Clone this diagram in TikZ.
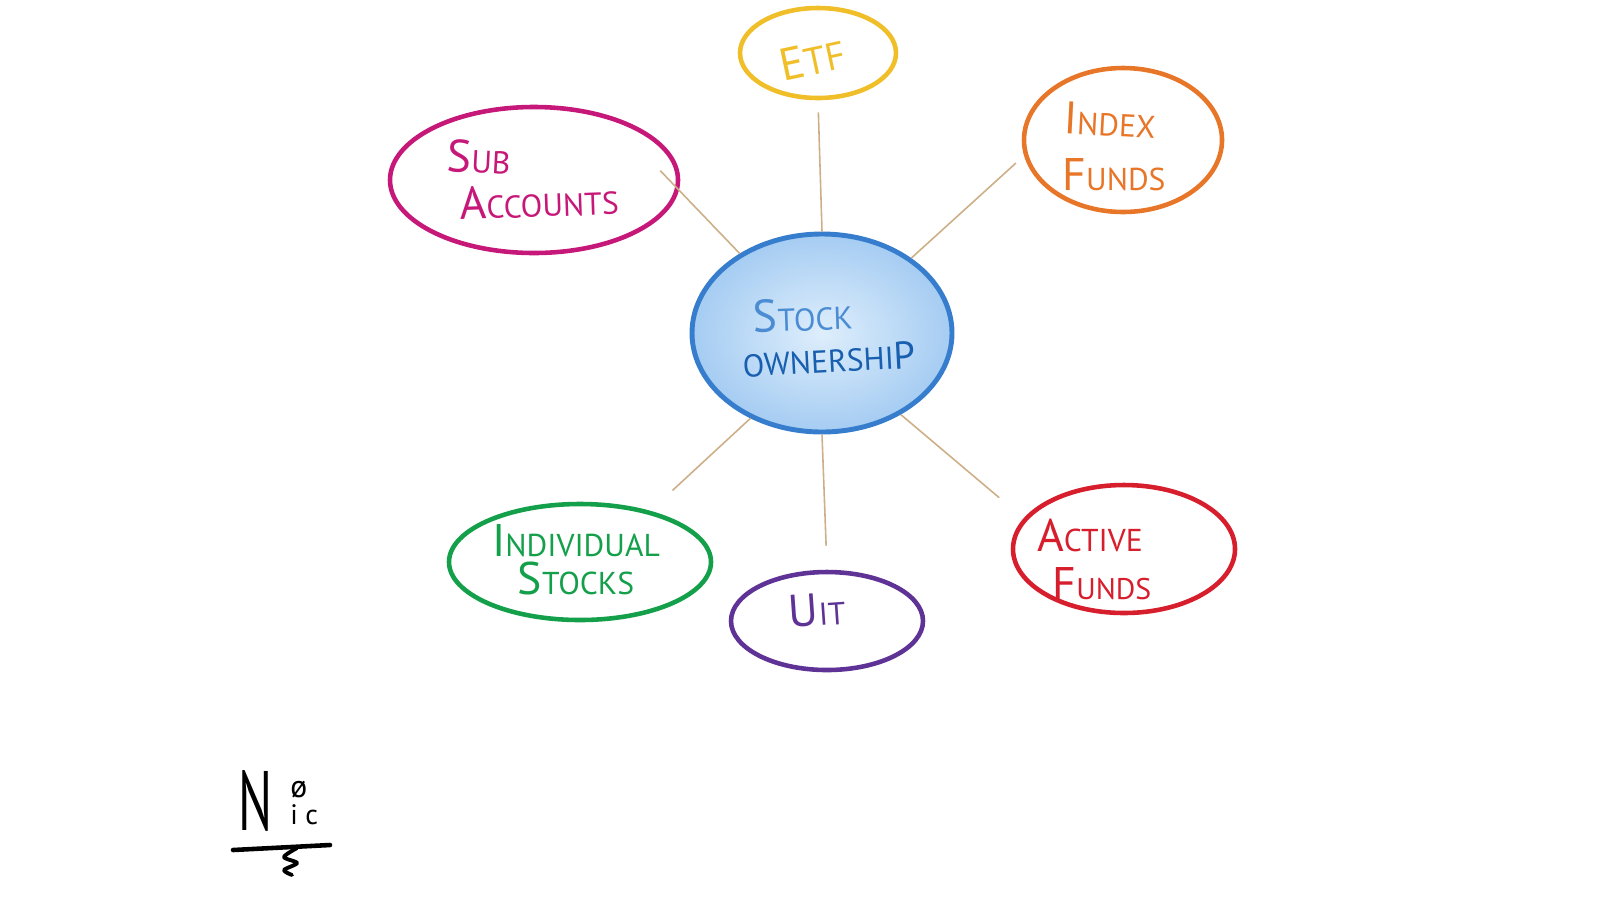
\documentclass[tikz,border=0pt]{standalone}
\usepackage{graphicx}
\usepackage{fontspec}
\setmainfont{PT Sans}
\usetikzlibrary{shapes.geometric}

\definecolor{etfcol}{RGB}{240,190,40}
\definecolor{indexcol}{RGB}{232,118,40}
\definecolor{subcol}{RGB}{198,24,120}
\definecolor{indivcol}{RGB}{20,160,75}
\definecolor{uitcol}{RGB}{95,50,150}
\definecolor{activecol}{RGB}{215,30,45}
\definecolor{stockline}{RGB}{55,125,205}
\definecolor{stocktop}{RGB}{75,140,210}
\definecolor{stockbot}{RGB}{25,95,175}
\definecolor{stockcore}{RGB}{222,238,252}
\definecolor{stockrim}{RGB}{165,204,242}
\definecolor{linkcol}{RGB}{205,175,135}

\newcommand{\bigsmall}[2]{{\fontsize{13}{13}\selectfont #1}{\fontsize{9}{9}\selectfont #2}}

\tikzset{
	bubble/.style={ellipse, draw, line width=1.3pt, inner sep=0pt},
	link/.style={draw=linkcol, line width=0.45pt},
	word/.style={inner sep=0pt, font=\fontsize{9}{9}\selectfont}
}

\begin{document}
\begin{tikzpicture}
			%%%%% START %%%%%
			\useasboundingbox (0, 0) rectangle (16, -9);
			
			% middle
			\node[bubble, draw=stockline, line width=1.4pt, inner color=stockcore, outer color=stockrim, minimum width=2.6cm, minimum height=1.98cm] (stock) at (8.22, -3.33) {};
			\node[word, color=stocktop, rotate=2] (stockA) at (8.03, -3.15) {\bigsmall{S}{TOCK}};
			\node[word, color=stockbot, rotate=3] (stockB) at (8.29, -3.59) {OWNERSHI{\fontsize{11}{11}\selectfont P}};
			
			% outer bubbles
			\node[bubble, draw=etfcol, minimum width=1.56cm, minimum height=0.9cm] (etf) at (8.18, -0.53) {};
			\node[word, color=etfcol, rotate=12] (etfA) at (8.12, -0.59) {\bigsmall{E}{\fontsize{11}{11}\selectfont TF}};
			
			\node[bubble, draw=indexcol, minimum width=1.98cm, minimum height=1.44cm] (index) at (11.23, -1.40) {};
			\node[word, color=indexcol, rotate=-3] (indexA) at (11.10, -1.20) {\bigsmall{I}{NDEX}};
			\node[word, color=indexcol] (indexB) at (11.14, -1.75) {\bigsmall{F}{UNDS}};
			
			\node[bubble, draw=subcol, minimum width=2.88cm, minimum height=1.46cm] (sub) at (5.34, -1.80) {};
			\node[word, color=subcol, rotate=-3] (subA) at (4.79, -1.57) {\bigsmall{S}{UB}};
			\node[word, color=subcol, rotate=2] (subB) at (5.39, -2.01) {\bigsmall{A}{CCOUNTS}};
			
			\node[bubble, draw=indivcol, minimum width=2.62cm, minimum height=1.16cm] (indiv) at (5.80, -5.62) {};
			\node[word, color=indivcol] (indivA) at (5.76, -5.41) {\bigsmall{I}{NDIVIDUAL}};
			\node[word, color=indivcol] (indivB) at (5.76, -5.78) {\bigsmall{S}{TOCKS}};
			
			\node[bubble, draw=uitcol, minimum width=1.92cm, minimum height=0.98cm] (uit) at (8.27, -6.21) {};
			\node[word, color=uitcol, rotate=4] (uitA) at (8.17, -6.10) {\bigsmall{U}{IT}};
			
			\node[bubble, draw=activecol, minimum width=2.22cm, minimum height=1.28cm] (active) at (11.24, -5.49) {};
			\node[word, color=activecol] (activeA) at (10.90, -5.35) {\bigsmall{A}{CTIVE}};
			\node[word, color=activecol] (activeB) at (11.02, -5.84) {\bigsmall{F}{\fontsize{8.5}{8.5}\selectfont UNDS}};
			
			% spokes
			\draw[link, shorten >=0.12cm] (stock.north) -- (etf.south);
			\draw[link, shorten >=-0.27cm] (stock.136) -- (sub.-4);
			\draw[link, shorten >=0.11cm] (stock.40) -- (index.189);
			\draw[link, shorten >=0.32cm] (stock.-46) -- (active.163);
			\draw[link, shorten >=0.30cm] (stock.230) -- (indiv.36);
			\draw[link, shorten >=0.24cm] (stock.south) -- (uit.north);
			
			% signature
			\node[inner sep=0pt, anchor=base west] (sig) at (2.38, -8.30) {{\fontsize{24}{24}\selectfont\scalebox{0.6}[1]{N}}\hspace{5pt}\raisebox{1.5pt}{\fontsize{8}{8}\selectfont\shortstack[l]{{\fontsize{9}{9}\selectfont ø}\\[-1pt]i c}}};
			\draw[line width=1.3pt, line cap=round] (2.33, -8.50) -- (3.30, -8.45);
			\draw[line width=1.1pt, line cap=round, line join=round] plot[smooth] coordinates {(2.97, -8.48) (2.84, -8.57) (2.97, -8.63) (2.84, -8.70) (2.92, -8.75)};
			
			%%%%% END %%%%%
		\end{tikzpicture}
\end{document}
